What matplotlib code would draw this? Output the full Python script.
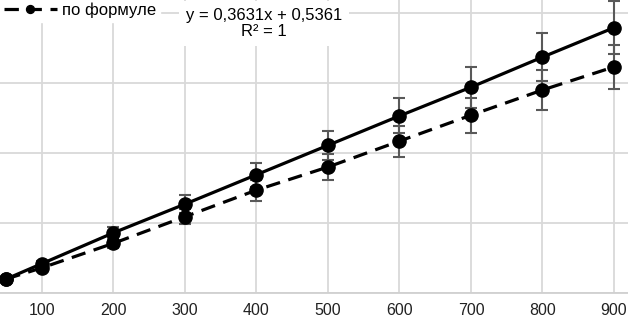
import matplotlib
matplotlib.use("Agg")
import matplotlib.pyplot as plt

plt.rcParams["font.family"] = ["Liberation Sans", "DejaVu Sans"]

# данные
x_vals = [50, 100, 200, 300, 400, 500, 600, 700, 800, 900]
y_exp = [20, 42, 86, 127, 169, 211, 253, 294, 337, 379]
err_exp = [2, 4, 9, 13, 17, 21, 25, 29, 34, 38]
y_formula = [20, 36, 71, 109, 147, 180, 217, 254, 290, 323]
err_formula = [2, 4, 7, 11, 15, 18, 22, 25, 29, 32]
x_ticks = [100, 200, 300, 400, 500, 600, 700, 800, 900]
y_grid = [0, 100, 200, 300, 400]

fig = plt.figure(figsize=(6.28, 3.19), dpi=100)
ax = fig.add_axes([0, 26 / 319, 1, 293 / 319])

err_col = "#595959"
ax.errorbar(x_vals, y_exp, yerr=err_exp, fmt="none", ecolor=err_col,
            elinewidth=1.5, capsize=4.5, capthick=1.5, zorder=2)
ax.errorbar(x_vals, y_formula, yerr=err_formula, fmt="none", ecolor=err_col,
            elinewidth=1.5, capsize=4.5, capthick=1.5, zorder=2)
ax.plot(x_vals, y_exp, color="black", lw=2.3, marker="o", ms=9.5, zorder=3)
ax.plot(x_vals, y_formula, color="black", lw=2.3, ls=(0, (4.5, 2.7)),
        marker="o", ms=9.5, zorder=3, label="по формуле")

ax.set_xlim(41.3, 919.6)
ax.set_ylim(0, 293 / 0.7)
ax.set_xticks(x_ticks)
ax.set_yticks(y_grid)
ax.set_yticklabels([])
ax.tick_params(length=0, labelsize=11.5, pad=7, colors="#222222")
ax.grid(color="#d9d9d9", lw=1.3)
ax.set_axisbelow(True)
for s in ["top", "right", "left"]:
    ax.spines[s].set_visible(False)
ax.spines["bottom"].set_color("#d0d0d0")
ax.spines["bottom"].set_linewidth(1.3)

leg = ax.legend(loc="upper left", bbox_to_anchor=(-0.014, 1.032),
                bbox_transform=fig.transFigure, fontsize=12, markerscale=0.6,
                handlelength=3.2, handletextpad=0.3, borderpad=0.25,
                fancybox=False, framealpha=1, edgecolor="white")
leg.set_zorder(5)

fig.text(0.42, 0.975, "y = 0,3631x + 0,5361\nR² = 1", ha="center", va="top",
         fontsize=12, linespacing=1.05, zorder=6,
         bbox=dict(facecolor="white", edgecolor="none", pad=5))

fig.savefig("out.png", dpi=100)
